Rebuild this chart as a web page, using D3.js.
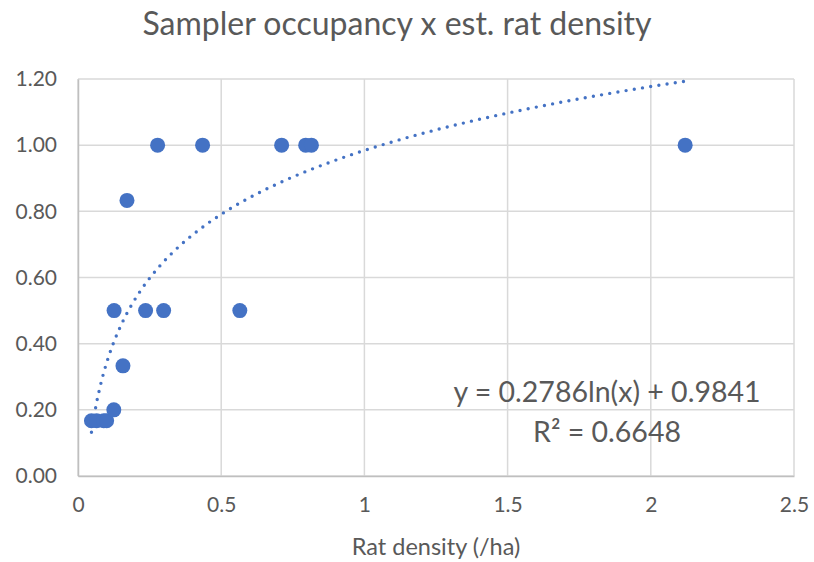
<!DOCTYPE html>
<meta charset="utf-8">
<style>
	body { margin: 0; background: #fff; }
	text { font-family: Lato, "Open Sans", sans-serif; fill: #595959; }
	.grid line { stroke: #d9d9d9; stroke-width: 1.5; }
	.dot { fill: #4472c4; }
	.trend { fill: none; stroke: #4472c4; stroke-width: 3.4; stroke-linecap: round; stroke-dasharray: 0 8.3; }
</style>
<svg width="814" height="562"></svg>
<script src="https://cdn.jsdelivr.net/npm/d3@7"></script>
<script>

var width = 814;
var height = 562;

var margin = {
	top: 79,
	right: 20,
	bottom: 86,
	left: 78
};

var innerWidth = 794 - margin.left;
var innerHeight = 476 - margin.top;

// data
var ratDensity = [0.047, 0.065, 0.09, 0.10, 0.125, 0.157, 0.171, 0.126, 0.236, 0.299, 0.565, 0.278, 0.435, 0.711, 0.795, 0.815, 2.12];
var occupancy = [0.167, 0.167, 0.167, 0.167, 0.2, 0.333, 0.833, 0.5, 0.5, 0.5, 0.5, 1, 1, 1, 1, 1, 1];
var xTicks = [0, 0.5, 1, 1.5, 2, 2.5];
var yTicks = [0, 0.2, 0.4, 0.6, 0.8, 1.0, 1.2];
var trendSlope = 0.2786;
var trendIntercept = 0.9841;
var trendR2 = 0.6648;

var svg = d3.select("svg")
	.attr('width', width)
	.attr('height', height);

var g = svg.append('g')
	.attr("transform", "translate(" + margin.left + "," + margin.top + ")");

var x = d3.scaleLinear().domain([0, 2.5]).range([0, innerWidth]);
var y = d3.scaleLinear().domain([0, 1.2]).range([innerHeight, 0]);

// gridlines
g.append('g').attr('class', 'grid')
	.selectAll('line')
	.data(xTicks)
	.join('line')
	.attr('x1', function(d){ return x(d); })
	.attr('x2', function(d){ return x(d); })
	.attr('y1', 0)
	.attr('y2', innerHeight);

g.append('g').attr('class', 'grid')
	.selectAll('line')
	.data(yTicks)
	.join('line')
	.attr('x1', 0)
	.attr('x2', innerWidth)
	.attr('y1', function(d){ return y(d); })
	.attr('y2', function(d){ return y(d); });

// axes (labels only, lines come from grid)
var xAxis = g.append('g')
	.attr("transform", "translate(0," + innerHeight + ")")
	.call(d3.axisBottom(x).tickValues(xTicks).tickFormat(d3.format('')).tickSize(0).tickPadding(21));

var yAxis = g.append('g')
	.call(d3.axisLeft(y).tickValues(yTicks).tickFormat(d3.format('.2f')).tickSize(0).tickPadding(21));

[xAxis, yAxis].forEach(function(a){
	a.select('.domain').attr('stroke', '#bfbfbf').attr('stroke-width', 1.5);
	a.selectAll('text').attr('font-size', 21).attr('fill', '#595959')
		.style('font-family', 'Lato, "Open Sans", sans-serif');
});

// trendline
var lo = d3.min(ratDensity), hi = d3.max(ratDensity);
var xs = d3.range(0, 201).map(function(i){
	return lo + (hi - lo) * i / 200;
});

g.append('path')
	.datum(xs)
	.attr('class', 'trend')
	.attr('d', d3.line()
		.x(function(d){ return x(d); })
		.y(function(d){ return y(trendSlope * Math.log(d) + trendIntercept); }));

// points
g.selectAll('.dot')
	.data(ratDensity)
	.join('circle')
	.attr('class', 'dot')
	.attr('cx', function(d){ return x(d); })
	.attr('cy', function(d, i){ return y(occupancy[i]); })
	.attr('r', 7.5);

// equation label
svg.append('text')
	.attr('x', 607)
	.attr('y', 402)
	.attr('text-anchor', 'middle')
	.attr('font-size', 28.5)
	.text('y = ' + trendSlope + 'ln(x) + ' + trendIntercept);

svg.append('text')
	.attr('x', 607)
	.attr('y', 442)
	.attr('text-anchor', 'middle')
	.attr('font-size', 28.5)
	.text('R² = ' + trendR2);

// titles
svg.append('text')
	.attr('x', 397)
	.attr('y', 35)
	.attr('text-anchor', 'middle')
	.attr('font-size', 32)
	.text('Sampler occupancy x est. rat density');

svg.append('text')
	.attr('x', 436)
	.attr('y', 555)
	.attr('text-anchor', 'middle')
	.attr('font-size', 23.5)
	.text('Rat density (/ha)');

</script>
